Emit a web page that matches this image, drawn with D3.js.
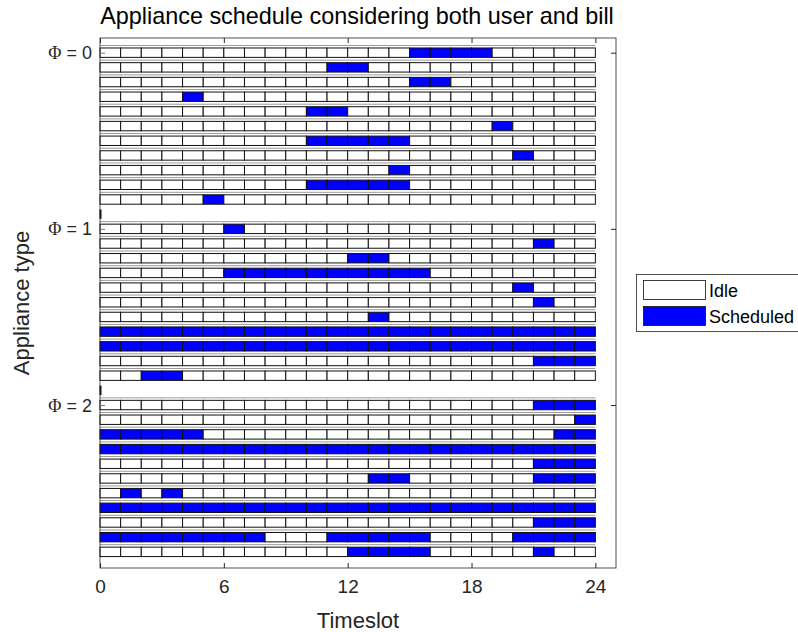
<!DOCTYPE html>
<html>
<head>
<meta charset="utf-8">
<script src="https://cdn.jsdelivr.net/npm/d3@7"></script>
<style>
  html, body { margin: 0; padding: 0; background: #fff; }
  svg { display: block; font-family: "Liberation Sans", Arial, Helvetica, sans-serif; }
</style>
</head>
<body>
<svg id="chart" width="798" height="632"></svg>
<script>
// Timeslots of the day (one cell per slot)
const slots = d3.range(24);
const xTicks = [0, 6, 12, 18, 24];

// Scheduled timeslots for each appliance, grouped by Φ
const phiLabels = ["0", "1", "2"];
const phi0Scheduled = [
  [15, 16, 17, 18], [11, 12], [15, 16], [4], [10, 11], [19],
  [10, 11, 12, 13, 14], [20], [14], [10, 11, 12, 13, 14], [5]
];
const phi1Scheduled = [
  [6], [21], [12, 13], [6, 7, 8, 9, 10, 11, 12, 13, 14, 15], [20], [21], [13],
  d3.range(24), d3.range(24), [21, 22, 23], [2, 3]
];
const phi2Scheduled = [
  [21, 22, 23], [23], [0, 1, 2, 3, 4, 22, 23], d3.range(24), [21, 22, 23],
  [13, 14, 21, 22, 23], [1, 3], d3.range(24), [21, 22, 23],
  [0, 1, 2, 3, 4, 5, 6, 7, 11, 12, 13, 14, 15, 20, 21, 22, 23],
  [12, 13, 14, 15, 21]
];
const groups = [phi0Scheduled, phi1Scheduled, phi2Scheduled];
const legendLabels = ["Idle", "Scheduled"];

const colIdle = "#ffffff";
const colSched = "#0000ff";
const axisCol = "#262626";

const svg = d3.select("#chart");
const mLeft = 100, mRight = 616, mTop = 38, mBottom = 568;

const x = d3.scaleLinear().domain([0, 25]).range([mLeft, mRight]);
// Row positions: each group has its rows followed by one empty spacer row
const rowsPerGroup = 12;
const y = d3.scaleLinear().domain([-1, 35.1]).range([mTop, mBottom]);
const rowStep = y(1) - y(0);
const barH = rowStep * 0.64;

// Flatten into rows
const rows = [];
groups.forEach((g, gi) => {
  g.forEach((sched, ri) => {
    const set = new Set(sched);
    rows.push({ idx: gi * rowsPerGroup + ri, cells: slots.map(s => ({ s, on: set.has(s) })) });
  });
});

const plot = svg.append("g");

// thin grey rule just above each row
plot.selectAll("line.rule").data(rows).join("line")
  .attr("class", "rule")
  .attr("x1", x(0)).attr("x2", x(24))
  .attr("y1", d => y(d.idx) - barH / 2 - 2.5)
  .attr("y2", d => y(d.idx) - barH / 2 - 2.5)
  .attr("stroke", "#9a9a9a").attr("stroke-width", 1);

const rowG = plot.selectAll("g.row").data(rows).join("g").attr("class", "row");
rowG.selectAll("rect").data(d => d.cells.map(c => ({ ...c, idx: d.idx }))).join("rect")
  .attr("x", c => x(c.s))
  .attr("y", c => y(c.idx) - barH / 2)
  .attr("width", c => x(c.s + 1) - x(c.s))
  .attr("height", barH)
  .attr("fill", c => c.on ? colSched : colIdle)
  .attr("stroke", "#111")
  .attr("stroke-width", 1);

// short marks on the left edge at the spacer rows
plot.selectAll("rect.spacer").data([11, 23]).join("rect")
  .attr("class", "spacer")
  .attr("x", x(0) - 0.5).attr("width", 2)
  .attr("y", d => y(d) - barH / 2).attr("height", barH)
  .attr("fill", "#111");

// Axes box
svg.append("rect")
  .attr("x", mLeft).attr("y", mTop)
  .attr("width", mRight - mLeft).attr("height", mBottom - mTop)
  .attr("fill", "none").attr("stroke", axisCol).attr("stroke-width", 0.8);

// x ticks (inside, bottom and top)
const xAxisB = d3.axisBottom(x).tickValues(xTicks).tickSize(-5).tickPadding(12).tickFormat(d3.format("d"));
const gxb = svg.append("g").attr("transform", `translate(0,${mBottom})`).call(xAxisB);
gxb.select(".domain").remove();
gxb.selectAll(".tick line").attr("stroke", axisCol);
gxb.selectAll(".tick text").attr("fill", axisCol).attr("font-size", 19)
  .attr("font-family", "Liberation Sans, Arial, sans-serif");

const xAxisT = d3.axisTop(x).tickValues(xTicks).tickSize(-5).tickFormat("");
const gxt = svg.append("g").attr("transform", `translate(0,${mTop})`).call(xAxisT);
gxt.select(".domain").remove();
gxt.selectAll(".tick line").attr("stroke", axisCol);

// y ticks at group starts
const yTickVals = phiLabels.map((_, i) => i * rowsPerGroup);
const yAxisL = d3.axisLeft(y).tickValues(yTickVals).tickSize(-5).tickFormat("");
const gyl = svg.append("g").attr("transform", `translate(${mLeft},0)`).call(yAxisL);
gyl.select(".domain").remove();
gyl.selectAll(".tick line").attr("stroke", "#777");
const yAxisR = d3.axisRight(y).tickValues(yTickVals).tickSize(-5).tickFormat("");
const gyr = svg.append("g").attr("transform", `translate(${mRight},0)`).call(yAxisR);
gyr.select(".domain").remove();
gyr.selectAll(".tick line").attr("stroke", axisCol);

// Φ labels
const yl = svg.append("g");
phiLabels.forEach((lab, i) => {
  const t = yl.append("text")
    .attr("x", mLeft - 8).attr("y", y(i * rowsPerGroup) + 6.5)
    .attr("text-anchor", "end").attr("font-size", 18).attr("fill", axisCol);
  t.append("tspan").attr("font-family", "Liberation Serif, Times New Roman, serif").text("Φ");
  t.append("tspan").text(" = " + lab);
});

// Titles
svg.append("text").attr("x", 357).attr("y", 24).attr("text-anchor", "middle")
  .attr("font-size", 23.4).attr("fill", "#000")
  .text("Appliance schedule considering both user and bill");
svg.append("text").attr("x", 358).attr("y", 628).attr("text-anchor", "middle")
  .attr("font-size", 22).attr("fill", axisCol).text("Timeslot");
svg.append("text").attr("transform", "translate(29,303) rotate(-90)").attr("text-anchor", "middle")
  .attr("font-size", 22).attr("fill", axisCol).text("Appliance type");

// Legend
const lg = svg.append("g");
lg.append("rect").attr("x", 636.5).attr("y", 274.5).attr("width", 170).attr("height", 57)
  .attr("fill", "#fff").attr("stroke", axisCol).attr("stroke-width", 0.8);
legendLabels.forEach((lab, i) => {
  lg.append("rect").attr("x", 643.5).attr("y", 280.5 + i * 26).attr("width", 62).attr("height", 19)
    .attr("fill", i === 0 ? colIdle : colSched).attr("stroke", "#111").attr("stroke-width", 0.8);
  lg.append("text").attr("x", 709).attr("y", 296.5 + i * 26)
    .attr("font-size", 18).attr("fill", "#000").text(lab);
});
</script>
</body>
</html>
